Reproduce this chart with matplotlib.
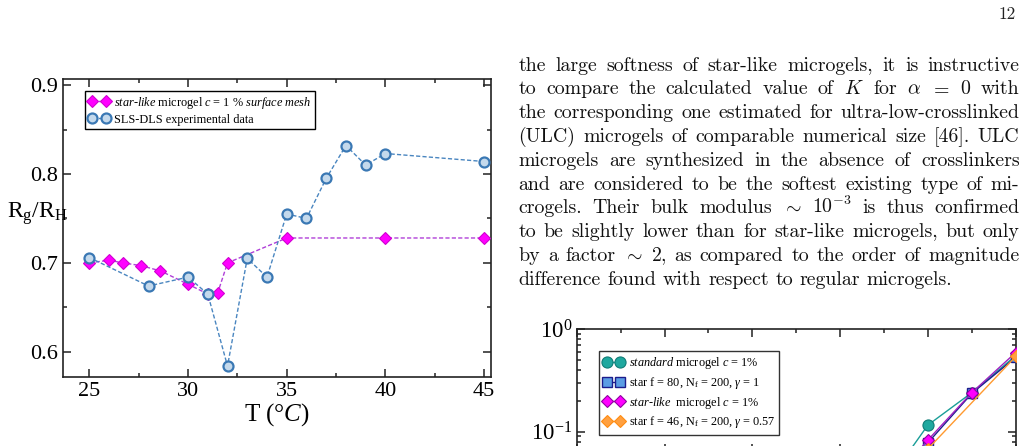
import matplotlib
matplotlib.use("Agg")
import matplotlib.pyplot as plt
from matplotlib.font_manager import FontProperties
from matplotlib.ticker import MultipleLocator, LogLocator, NullFormatter, LogFormatterMathtext
import numpy as np

plt.rcParams['mathtext.fontset'] = 'custom'
plt.rcParams['mathtext.rm'] = 'Liberation Serif'
plt.rcParams['mathtext.it'] = 'Liberation Serif:italic'
plt.rcParams['mathtext.bf'] = 'Liberation Serif:bold'
plt.rcParams['mathtext.fallback'] = 'stix'
plt.rcParams['font.family'] = ['Liberation Serif', 'DejaVu Serif']

# ---------------- data: top-left chart ----------------
T_sim = [25, 26, 26.7, 27.6, 28.6, 30, 31, 31.5, 32, 35, 40, 45]
R_sim = [0.700, 0.703, 0.700, 0.697, 0.691, 0.676, 0.665, 0.666, 0.700, 0.728, 0.728, 0.728]
T_exp = [25, 28, 30, 31, 32, 33, 34, 35, 36, 37, 38, 39, 40, 45]
R_exp = [0.706, 0.674, 0.684, 0.665, 0.584, 0.705, 0.684, 0.755, 0.750, 0.795, 0.832, 0.810, 0.823, 0.814]
label_sim = r"$\mathit{star}$-$\mathit{like}$ microgel $c$ = 1 % $\mathit{surface\ mesh}$"
label_exp = "SLS-DLS experimental data"

# ---------------- data: bottom-right chart (partly visible) ----------------
x_b = [0.7, 0.8, 0.9, 1.0]
std_y = [0.029, 0.116, 0.240, 0.55]
star80_y = [0.025, 0.078, 0.236, 0.53]
starlike_y = [0.027, 0.083, 0.240, 0.59]
x_orange = [0.7, 0.8, 1.0]
star46_y = [0.022, 0.068, 0.54]
labels_b = [r"$\mathit{standard}$ microgel $c$ = 1%",
            r"star f = 80, N$_\mathrm{f}$ = 200, $\gamma$ = 1",
            r"$\mathit{star}$-$\mathit{like}$  microgel $c$ = 1%",
            r"star f = 46, N$_\mathrm{f}$ = 200, $\gamma$ = 0.57"]

# ---------------- paragraph text ----------------
para_lines = [
    "the large softness of star-like microgels, it is instructive",
    r"to compare the calculated value of $K$ for $\alpha$ $=$ $0$ with",
    "the corresponding one estimated for ultra-low-crosslinked",
    "(ULC) microgels of comparable numerical size [46]. ULC",
    "microgels are synthesized in the absence of crosslinkers",
    "and are considered to be the softest existing type of mi-",
    r"crogels. Their bulk modulus $\sim$ $10^{-3}$ is thus confirmed",
    "to be slightly lower than for star-like microgels, but only",
    r"by a factor $\sim$ $2$, as compared to the order of magnitude",
    "difference found with respect to regular microgels.",
]

W, H = 1028, 446
fig = plt.figure(figsize=(W / 100, H / 100), dpi=100)
fig.patch.set_facecolor('white')

def fx(px):
    return px / W

def fy(py):
    return 1 - py / H

# ---------- top-left axes ----------
L, R, Tp, B = 63.3, 491.0, 79.0, 376.7
ax = fig.add_axes([fx(L), fy(B), fx(R - L), (B - Tp) / H])
ax.plot(T_sim, R_sim, ls=(0, (3, 1.6)), color='#b040d8', lw=1.0, marker='D', ms=6.5,
        mfc='#ff00ff', mec='#d000d0', mew=0.8, label=label_sim, zorder=3)
ax.plot(T_exp, R_exp, ls=(0, (3, 1.6)), color='#4a86c0', lw=1.0, marker='o', ms=7.2,
        mfc='#c4d9ec', mec='#3a78b4', mew=1.6, label=label_exp, zorder=4)
ax.set_xlim(23.68, 45.35)
ax.set_ylim(0.572, 0.9068)
ax.xaxis.set_major_locator(MultipleLocator(5))
ax.xaxis.set_minor_locator(MultipleLocator(2.5))
ax.yaxis.set_major_locator(MultipleLocator(0.1))
ax.yaxis.set_minor_locator(MultipleLocator(0.05))
ax.yaxis.set_major_formatter(matplotlib.ticker.FormatStrFormatter('%.1f'))
ax.tick_params(which='both', direction='in', top=True, right=True, width=1.1, color='#222222')
ax.tick_params(which='major', length=6, labelsize=16, pad=4)
ax.tick_params(which='minor', length=3)
for s in ax.spines.values():
    s.set_linewidth(1.2)
    s.set_color('#222222')
ax.set_xlabel(r"T (°$C$)", fontsize=18, labelpad=0)
fig.text(fx(7), fy(218), r"R$_\mathrm{g}$/R$_\mathrm{H}$", fontsize=17, ha='left', va='baseline')
leg = ax.legend(loc='upper left', bbox_to_anchor=((85 - L) / (R - L), (B - 91) / (B - Tp)),
                borderaxespad=0, numpoints=2, handlelength=1.7, handletextpad=0.4,
                borderpad=0.3, labelspacing=0.25, fancybox=False, framealpha=1,
                edgecolor='black', prop=FontProperties(family='Liberation Serif', size=8.8))
leg.get_frame().set_linewidth(1.0)

# ---------- bottom-right axes (clipped by page) ----------
L2, R2, T2 = 576.7, 1015.7, 329.0
dec = 102.7
ndec = 1.2
hb = dec * ndec
ax2 = fig.add_axes([fx(L2), fy(T2 + hb), fx(R2 - L2), hb / H])
ax2.plot(x_b, std_y, '-', color='#1a9e98', lw=1.0, marker='o', ms=8, mfc='#1fa89f', mec='#0f7c76',
         mew=0.8, label=labels_b[0], zorder=3)
ax2.plot(x_b, star80_y, '-', color='#1c1c8c', lw=1.0, marker='s', ms=6.5, mfc='#5b9de4', mec='#1c1c8c',
         mew=1.0, label=labels_b[1], zorder=4)
ax2.plot(x_b, starlike_y, '-', color='#a020c0', lw=1.0, marker='D', ms=6.5, mfc='#ff00ff', mec='#9000a0',
         mew=0.8, label=labels_b[2], zorder=5)
ax2.plot(x_orange, star46_y, '-', color='#ff9a30', lw=1.0, marker='D', ms=6.5, mfc='#ffa040', mec='#ff8c10',
         mew=0.8, label=labels_b[3], zorder=6)
ax2.set_yscale('log')
ax2.set_ylim(10 ** (-ndec), 1.0)
ax2.set_xlim(0, 1.0)
ax2.xaxis.set_major_locator(MultipleLocator(0.2))
ax2.xaxis.set_minor_locator(MultipleLocator(0.1))
ax2.yaxis.set_major_locator(LogLocator(base=10))
ax2.yaxis.set_minor_locator(LogLocator(base=10, subs=np.arange(2, 10)))
ax2.yaxis.set_minor_formatter(NullFormatter())
ax2.yaxis.set_major_formatter(LogFormatterMathtext())
ax2.tick_params(which='both', direction='in', top=True, right=True, labelbottom=False,
                width=1.1, color='#222222')
ax2.tick_params(which='major', length=6, labelsize=16.5, pad=3)
ax2.tick_params(which='minor', length=3)
for s in ax2.spines.values():
    s.set_linewidth(1.2)
    s.set_color('#222222')
leg2 = ax2.legend(loc='upper left', bbox_to_anchor=((599 - L2) / (R2 - L2), (T2 + hb - 351) / hb),
                  borderaxespad=0, numpoints=2, handlelength=1.7, handletextpad=0.4,
                  borderpad=0.35, labelspacing=0.3, fancybox=False, framealpha=1,
                  edgecolor='#333333', prop=FontProperties(family='Liberation Serif', size=8.8))
leg2.get_frame().set_linewidth(1.0)

# ---------- page number ----------
fig.text(fx(1016), fy(19), "12", fontsize=12.5, family='cmr10', ha='right', va='baseline',
         color='#222222')

# ---------- justified paragraph ----------
renderer = fig.canvas.get_renderer()
x_left, x_right = 518.5, 1019.5
base0, lstep = 70.5, 23.8
target = x_right - x_left


def measure(words, size):
    ws = []
    for w in words:
        t = fig.text(0, 0, w, fontsize=size, family='cmr10', math_fontfamily='cm')
        ws.append(t.get_window_extent(renderer).width)
        t.remove()
    return ws


f0 = 13.0
nat = []
for line in para_lines[:-1]:
    words = line.split(' ')
    ws = measure(words, f0)
    nat.append(sum(ws) + (len(words) - 1) * f0 * 100 / 72 * 0.333)
fsz = f0 * (target - 1) / max(nat)

for i, line in enumerate(para_lines):
    words = line.split(' ')
    texts = []
    for w in words:
        t = fig.text(0, fy(base0 + i * lstep), w, fontsize=fsz, family='cmr10',
                     math_fontfamily='cm', ha='left', va='baseline', color='#111111')
        texts.append(t)
    widths = [t.get_window_extent(renderer).width for t in texts]
    last = (i == len(para_lines) - 1)
    if last or len(words) == 1:
        gap = fsz * 100 / 72 * 0.333
    else:
        gap = (target - sum(widths)) / (len(words) - 1)
    x = x_left
    for t, wd in zip(texts, widths):
        t.set_x(fx(x))
        x += wd + gap

fig.savefig("out.png", dpi=100, facecolor='white')
